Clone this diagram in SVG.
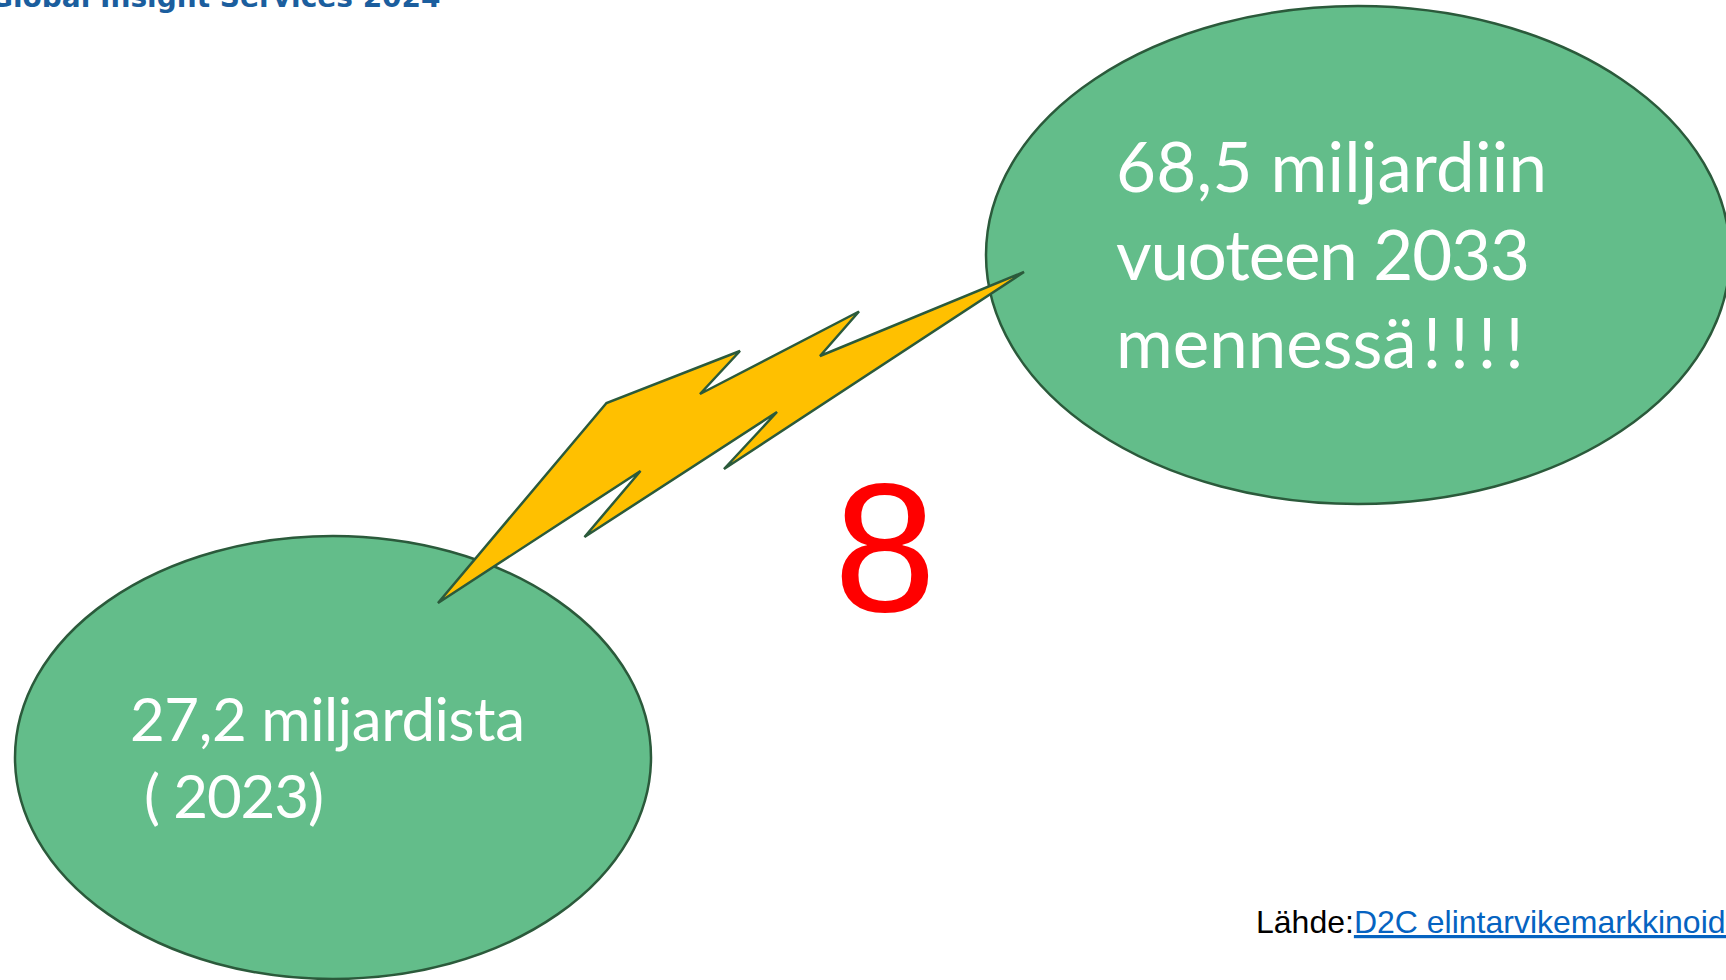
<svg xmlns="http://www.w3.org/2000/svg" width="1726" height="980" viewBox="0 0 1726 980">
<style>
.bubble{fill:#63BD8A;stroke:#2B5A3B;stroke-width:2.5}
.btxt{fill:#ffffff;font-family:Lato,"Open Sans",sans-serif}
.bolt{fill:#FFC000;stroke:#2B5A3B;stroke-width:2.5;stroke-linejoin:miter}
.hdr{fill:#1B5E9E;font-family:"DejaVu Sans",sans-serif;font-weight:bold;font-size:28px}
.src{font-family:"Liberation Sans",Arial,sans-serif;font-size:32px}
</style>
<rect width="1726" height="980" fill="#ffffff"/>
<text class="hdr" x="-10" y="7">Global Insight Services 2024</text>
<g id="node-2023">
<ellipse class="bubble" cx="333" cy="757.5" rx="318" ry="221.5"/>
<text class="btxt" font-size="60" x="130" y="741" textLength="395">27,2 miljardista</text>
<text class="btxt" font-size="60" x="144" y="818" textLength="180">( 2023)</text>
</g>
<g id="node-2033">
<ellipse class="bubble" cx="1358" cy="255" rx="372" ry="249"/>
<text class="btxt" font-size="69" x="1116" y="192" textLength="431">68,5 miljardiin</text>
<text class="btxt" font-size="69" x="1116" y="280" textLength="414">vuoteen 2033</text>
<text class="btxt" font-size="69" x="1116" y="368">mennessä<tspan letter-spacing="9" dx="6">!!!!</tspan></text>
</g>
<g id="connectors">
<polygon class="bolt" points="1024,272 820,356 859,311.5 700,394 740,351 606.5,403 438,603 640.5,471 584.5,537 777,412 724,469"/>
</g>
<g id="node-factor">
<text x="885" y="611" text-anchor="middle" font-family="'Liberation Sans',Arial,sans-serif" font-size="184" fill="#FF0000">8</text>
</g>
<g id="source">
<text class="src" x="1256" y="933"><tspan fill="#000000">Lähde:</tspan><tspan fill="#0563C1" text-decoration="underline">D2C elintarvikemarkkinoide</tspan></text>
</g>
</svg>
